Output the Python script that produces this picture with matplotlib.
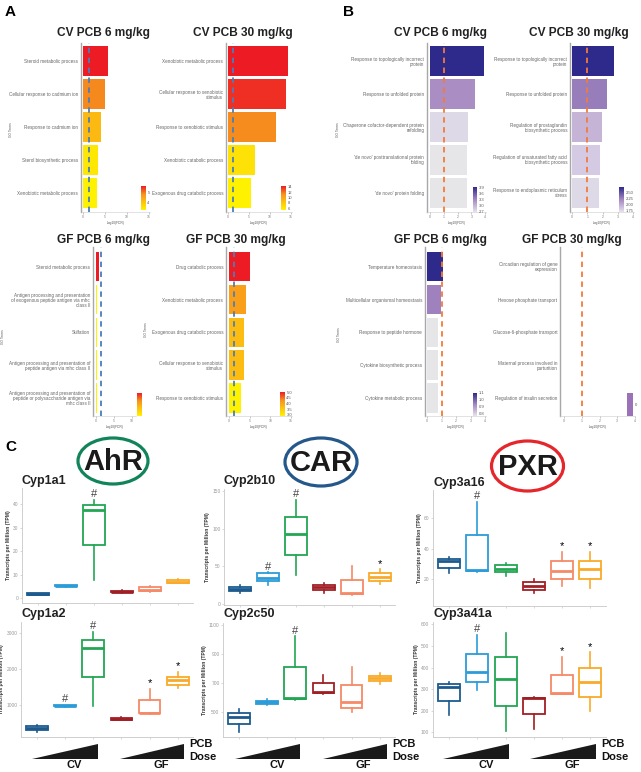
import numpy as np
import matplotlib
matplotlib.use("Agg")
import matplotlib.pyplot as plt
from matplotlib.colors import LinearSegmentedColormap, ListedColormap, Normalize
from matplotlib.cm import ScalarMappable
from matplotlib.patches import Ellipse, Polygon

plt.rcParams["font.family"] = ["Liberation Sans", "DejaVu Sans"]

# GO term enrichment (panel A: upregulated, panel B: downregulated)

a_cv6_terms = ["Steroid metabolic process", "Cellular response to cadmium ion",
               "Response to cadmium ion", "Sterol biosynthetic process",
               "Xenobiotic metabolic process"]
a_cv6_vals = [5.7, 4.9, 4.2, 3.4, 3.2]

a_cv30_terms = ["Xenobiotic metabolic process", "Cellular response to xenobiotic\nstimulus",
                "Response to xenobiotic stimulus", "Xenobiotic catabolic process",
                "Exogenous drug catabolic process"]
a_cv30_vals = [14.3, 13.8, 11.4, 6.5, 5.4]

a_gf6_terms = ["Steroid metabolic process",
               "Antigen processing and presentation\nof exogenous peptide antigen via mhc\nclass II",
               "Sulfation",
               "Antigen processing and presentation of\npeptide antigen via mhc class II",
               "Antigen processing and presentation of\npeptide or polysaccharide antigen via\nmhc class II"]
a_gf6_vals = [0.85, 0.3, 0.3, 0.3, 0.3]

a_gf30_terms = ["Drug catabolic process", "Xenobiotic metabolic process",
                "Exogenous drug catabolic process", "Cellular response to xenobiotic\nstimulus",
                "Response to xenobiotic stimulus"]
a_gf30_vals = [5.0, 4.1, 3.7, 3.7, 2.9]

b_cv6_terms = ["Response to topologically incorrect\nprotein", "Response to unfolded protein",
               "Chaperone cofactor-dependent protein\nrefolding",
               "'de novo' posttranslational protein\nfolding", "'de novo' protein folding"]
b_cv6_vals = [3.93, 3.27, 2.76, 2.69, 2.69]

b_cv30_terms = ["Response to topologically incorrect\nprotein", "Response to unfolded protein",
                "Regulation of prostaglandin\nbiosynthetic process",
                "Regulation of unsaturated fatty acid\nbiosynthetic process",
                "Response to endoplasmic reticulum\nstress"]
b_cv30_vals = [2.75, 2.29, 1.96, 1.83, 1.76]

b_gf6_terms = ["Temperature homeostasis", "Multicellular organismal homeostasis",
               "Response to peptide hormone", "Cytokine biosynthetic process",
               "Cytokine metabolic process"]
b_gf6_vals = [1.1, 0.94, 0.76, 0.76, 0.76]

b_gf30_terms = ["Circadian regulation of gene\nexpression", "Hexose phosphate transport",
                "Glucose-6-phosphate transport", "Maternal process involved in\nparturition",
                "Regulation of insulin secretion"]
b_gf30_vals = [0, 0, 0, 0, 0]

# Panel C: TPM box stats per group (whislo, q1, median, q3, whishi)
groups = ["CV 0", "CV 6", "CV 30", "GF 0", "GF 6", "GF 30"]
box_colors = ["#1C5A8E", "#2C9CD8", "#22A653", "#A01F24", "#F58A68", "#F9AA2A"]

cyp1a1 = [(1.2, 1.4, 1.7, 2.0, 2.2), (4.8, 5.0, 5.2, 5.5, 5.7), (7.7, 22.5, 37.4, 39.6, 41.7),
          (2.2, 2.4, 2.7, 3.0, 3.3), (2.7, 2.9, 3.5, 4.7, 5.3), (6.2, 6.4, 7.0, 7.6, 7.9)]
cyp1a1_marks = ["", "", "#", "", "", ""]

cyp1a2 = [(250, 305, 360, 416, 450), (950, 965, 985, 1000, 1010), (970, 1780, 2590, 2800, 3030),
          (570, 590, 620, 640, 660), (760, 780, 790, 1140, 1440), (1470, 1550, 1690, 1790, 1920)]
cyp1a2_marks = ["", "#", "#", "", "*", "*"]

cyp2b10 = [(14, 17, 20, 22.5, 25), (25.6, 31, 34.5, 40.7, 42), (38.5, 65.4, 92.8, 115.8, 139),
           (14, 18.6, 22, 25.6, 28), (12, 13.3, 14, 32, 50.8), (27, 31, 35.4, 40.7, 46)]
cyp2b10_marks = ["", "#", "#", "", "", "*"]

cyp2c50 = [(362, 413, 465, 489, 516), (548, 553, 565, 576, 590), (580, 585, 592, 807, 1022),
           (620, 627, 638, 700, 753), (500, 528, 565, 684, 807), (690, 715, 733, 747, 766)]
cyp2c50_marks = ["", "", "#", "", "", ""]

cyp3a16 = [(23.9, 27.2, 32, 33.1, 34.8), (25, 25.7, 26.1, 49, 70.9), (22.2, 24.6, 26.5, 29.4, 30.9),
           (10.8, 13, 15.8, 18, 20.2), (15.8, 20.2, 25.7, 32, 38.1), (14, 20.2, 26.6, 32.3, 38.1)]
cyp3a16_marks = ["", "#", "", "", "*", "*"]

cyp3a41a = [(181, 246, 309, 324, 335), (297, 332, 377, 461, 551), (106, 224, 346, 450, 558),
            (114, 184, 258, 260, 265), (278, 278, 282, 366, 448), (197, 262, 332, 400, 470)]
cyp3a41a_marks = ["", "#", "", "", "*", "*"]

W, H = 641, 772
fig = plt.figure(figsize=(W / 100, H / 100), dpi=100)


def px_axes(x0, y0, x1, y1):
    return fig.add_axes([x0 / W, 1 - y1 / H, (x1 - x0) / W, (y1 - y0) / H])


def px_text(x, y, s, **kw):
    return fig.text(x / W, 1 - y / H, s, **kw)


warm = LinearSegmentedColormap.from_list(
    "warm", [(0, "#FFF200"), (0.35, "#FDC010"), (0.65, "#F7941D"), (1, "#ED1C24")])
purple = LinearSegmentedColormap.from_list(
    "purp", [(0, "#E6E6E8"), (0.1, "#D8CEE5"), (0.5, "#A688C0"), (1, "#2E2A8C")])


def go_panel(box, terms, vals, xlim, xticks, cmap, vr, cut, cut_color,
             cbox, cticks, clabels, ylim):
    ax = px_axes(*box)
    norm = Normalize(*vr)
    y = np.arange(len(terms))
    ax.barh(y, vals, height=0.9, color=cmap(norm(np.array(vals))), linewidth=0)
    ax.axvline(cut, color=cut_color, ls=(0, (3, 2.5)), lw=1.3)
    ax.set_xlim(xlim)
    ax.set_ylim(ylim)
    ax.set_yticks(y, terms, fontsize=3.3, color="#666", linespacing=1.0)
    ax.tick_params(axis="y", length=0, pad=2)
    ax.set_xticks(xticks, [str(t) for t in xticks], fontsize=2.4, color="#777")
    ax.tick_params(axis="x", length=1.5, width=0.4, pad=1, color="#999")
    ax.set_xlabel("-log10(FDR)", fontsize=2.3, color="#555", labelpad=1)
    for s in ["top", "right"]:
        ax.spines[s].set_visible(False)
    ax.spines["left"].set(color="#A8A8A8", lw=1.0)
    ax.spines["bottom"].set(color="#CCCCCC", lw=0.4)

    cax = px_axes(*cbox)
    cb = fig.colorbar(ScalarMappable(norm=norm, cmap=cmap), cax=cax)
    cb.outline.set_visible(False)
    cb.set_ticks(cticks, labels=clabels)
    cax.tick_params(labelsize=3, length=0, pad=1, colors="#555")
    return ax


blue_cut = "#4A7EBB"
orange_cut = "#F47A3A"

# Panel A
go_panel((81, 43, 150.3, 212), a_cv6_terms, a_cv6_vals, (-0.45, 15.3), [0, 5, 10, 15],
         warm, (3.2, 5.7), 1.3, blue_cut, (141, 186, 146, 210), [4, 5], ["4", "5"], (4.58, -0.55))
go_panel((226, 43, 291.8, 212), a_cv30_terms, a_cv30_vals, (-0.48, 15.2), [0, 5, 10, 15],
         warm, (5.4, 14.3), 1.3, blue_cut, (281, 186, 286, 210),
         [6, 8, 10, 12, 14], ["6", "8", "10", "12", "14"], (4.58, -0.55))
go_panel((93, 247, 136, 416), a_gf6_terms, a_gf6_vals, (-0.83, 11.1), [0, 5, 10],
         warm, (0.3, 0.85), 1.3, blue_cut, (137, 393, 142, 416), [], [], (4.55, -0.6))
go_panel((226, 247, 292, 416), a_gf30_terms, a_gf30_vals, (-0.73, 15.25), [0, 5, 10, 15],
         warm, (2.9, 5.0), 1.3, blue_cut, (280, 392, 285, 416),
         [3.0, 3.5, 4.0, 4.5, 5.0], ["3.0", "3.5", "4.0", "4.5", "5.0"], (4.55, -0.6))

# Panel B
go_panel((427, 43, 486, 212), b_cv6_terms, b_cv6_vals, (-0.22, 4.05), [0, 1, 2, 3, 4],
         purple, (2.69, 3.93), 1.0, orange_cut, (473, 187, 477, 212),
         [2.7, 3.0, 3.3, 3.6, 3.9], ["2.7", "3.0", "3.3", "3.6", "3.9"], (4.58, -0.55))
go_panel((570, 43, 634, 212), b_cv30_terms, b_cv30_vals, (-0.13, 4.05), [0, 1, 2, 3, 4],
         purple, (1.7, 2.75), 1.0, orange_cut, (619, 187, 624, 212),
         [1.75, 2.0, 2.25, 2.5], ["1.75", "2.00", "2.25", "2.50"], (4.58, -0.55))
go_panel((425, 247, 486, 416), b_gf6_terms, b_gf6_vals, (-0.14, 4.05), [0, 1, 2, 3, 4],
         purple, (0.76, 1.1), 1.0, orange_cut, (473, 393, 477, 416),
         [0.8, 0.9, 1.0, 1.1], ["0.8", "0.9", "1.0", "1.1"], (4.55, -0.6))
go_panel((560, 247, 635, 416), b_gf30_terms, b_gf30_vals, (-0.23, 4.0), [0, 1, 2, 3, 4],
         ListedColormap(["#9B72B8"]), (-1, 1), 1.0, orange_cut, (627, 393, 633, 416),
         [0], ["0"], (4.55, -0.6))

# GO Terms axis labels
for x, y in [(11, 130), (3, 337), (146, 330), (338, 130), (339, 335)]:
    px_text(x, y, "GO Terms", fontsize=2.3, color="#555", rotation=90, ha="center", va="center")

# Panel titles
title_kw = dict(fontsize=8.6, fontweight="bold", color="#222", ha="center", va="baseline")
px_text(103.5, 36, "CV PCB 6 mg/kg", **title_kw)
px_text(243, 36, "CV PCB 30 mg/kg", **title_kw)
px_text(103.5, 242.5, "GF PCB 6 mg/kg", **title_kw)
px_text(235.5, 242.5, "GF PCB 30 mg/kg", **title_kw)
px_text(440, 36, "CV PCB 6 mg/kg", **title_kw)
px_text(579, 36, "CV PCB 30 mg/kg", **title_kw)
px_text(440.5, 242.5, "GF PCB 6 mg/kg", **title_kw)
px_text(572, 242.5, "GF PCB 30 mg/kg", **title_kw)

letter_kw = dict(fontsize=11, fontweight="bold", color="black", ha="left", va="baseline")
px_text(5, 16, "A", **letter_kw)
px_text(343, 16, "B", **letter_kw)
px_text(5, 451, "C", **letter_kw)

# Receptor ellipses
for cx, cy, w, h, name, col in [(113, 461, 70, 46, "AhR", "#12845A"),
                                (321, 462, 72, 48, "CAR", "#25588A"),
                                (527.5, 466, 72, 50, "PXR", "#E5262B")]:
    fig.patches.append(Ellipse((cx / W, 1 - cy / H), w / W, h / H, transform=fig.transFigure,
                               fill=False, edgecolor=col, lw=2.3))
    px_text(cx, cy + 1, name, fontsize=21, fontweight="bold", color="#1A1A1A",
            ha="center", va="center")


def box_panel(box, name, title_xy, stats, marks, ylim, yticks):
    ax = px_axes(*box)
    bx = [dict(whislo=s[0], q1=s[1], med=s[2], q3=s[3], whishi=s[4], fliers=[]) for s in stats]
    pos = np.arange(1, len(stats) + 1)
    parts = ax.bxp(bx, positions=pos, widths=0.78, showfliers=False, showcaps=False,
                   patch_artist=True)
    for i, c in enumerate(box_colors):
        parts["boxes"][i].set(facecolor="white", edgecolor=c, lw=1.3)
        parts["medians"][i].set(color=c, lw=2.0)
        parts["whiskers"][2 * i].set(color=c, lw=1.2)
        parts["whiskers"][2 * i + 1].set(color=c, lw=1.2)
    for i, m in enumerate(marks):
        if m:
            ax.annotate(m, (pos[i], stats[i][4]), xytext=(0, 0.5), textcoords="offset points",
                        ha="center", va="bottom", fontsize=8,
                        color="#444" if m == "#" else "black")
    ax.set_xlim(0.42, 6.55)
    ax.set_ylim(ylim)
    ax.set_xticks(pos, [])
    ax.set_yticks(yticks, [str(t) for t in yticks])
    ax.tick_params(axis="both", length=1.5, width=0.4, color="#BBB", labelsize=3.5,
                   labelcolor="#999", pad=1)
    for s in ["top", "right"]:
        ax.spines[s].set_visible(False)
    for s in ["left", "bottom"]:
        ax.spines[s].set(color="#C8C8C8", lw=0.6)
    ax.set_ylabel("Transcripts per Million (TPM)", fontsize=3.6, fontweight="bold",
                  color="#333", labelpad=1.5)
    px_text(title_xy[0], title_xy[1], name, fontsize=9, fontweight="bold", color="#222",
            ha="left", va="baseline")


box_panel((21.7, 488, 193, 603), "Cyp1a1", (22, 484), cyp1a1, cyp1a1_marks,
          (-2.1, 46.8), [0, 10, 20, 30, 40])
box_panel((21, 622, 193, 737), "Cyp1a2", (22, 617), cyp1a2, cyp1a2_marks,
          (110, 3305), [1000, 2000, 3000])
box_panel((224, 489, 395, 605), "Cyp2b10", (224, 484), cyp2b10, cyp2b10_marks,
          (-1.3, 153), [0, 50, 100, 150])
box_panel((223, 623, 395, 737), "Cyp2c50", (224, 617), cyp2c50, cyp2c50_marks,
          (325, 1114), [500, 700, 900, 1100])
box_panel((432.7, 490, 605.7, 605.7), "Cyp3a16", (433, 486), cyp3a16, cyp3a16_marks,
          (2.7, 78.6), [20, 40, 60])
box_panel((432.7, 621.7, 605.7, 736.7), "Cyp3a41a", (433, 617), cyp3a41a, cyp3a41a_marks,
          (80, 612), [100, 200, 300, 400, 500, 600])

# Dose triangles and group labels
lab_kw = dict(fontsize=8, fontweight="bold", color="#111", va="center")
for (l0, l1, r0, r1, cvx, gfx, pcbx) in [(32, 98, 120, 184, 74, 161, 189),
                                          (235, 300, 323, 387, 277, 363, 392),
                                          (443, 509, 530, 596, 486, 572, 601)]:
    for a, b in [(l0, l1), (r0, r1)]:
        pts = [(a / W, 1 - 759 / H), (b / W, 1 - 759 / H), (b / W, 1 - 744 / H)]
        fig.patches.append(Polygon(pts, closed=True, transform=fig.transFigure,
                                   facecolor="#1A1A1A", edgecolor="none"))
    px_text(cvx, 765, "CV", ha="center", **lab_kw)
    px_text(gfx, 765, "GF", ha="center", **lab_kw)
    px_text(pcbx, 744, "PCB", ha="left", **lab_kw)
    px_text(pcbx, 757, "Dose", ha="left", **lab_kw)

fig.savefig("out.png", dpi=100)
